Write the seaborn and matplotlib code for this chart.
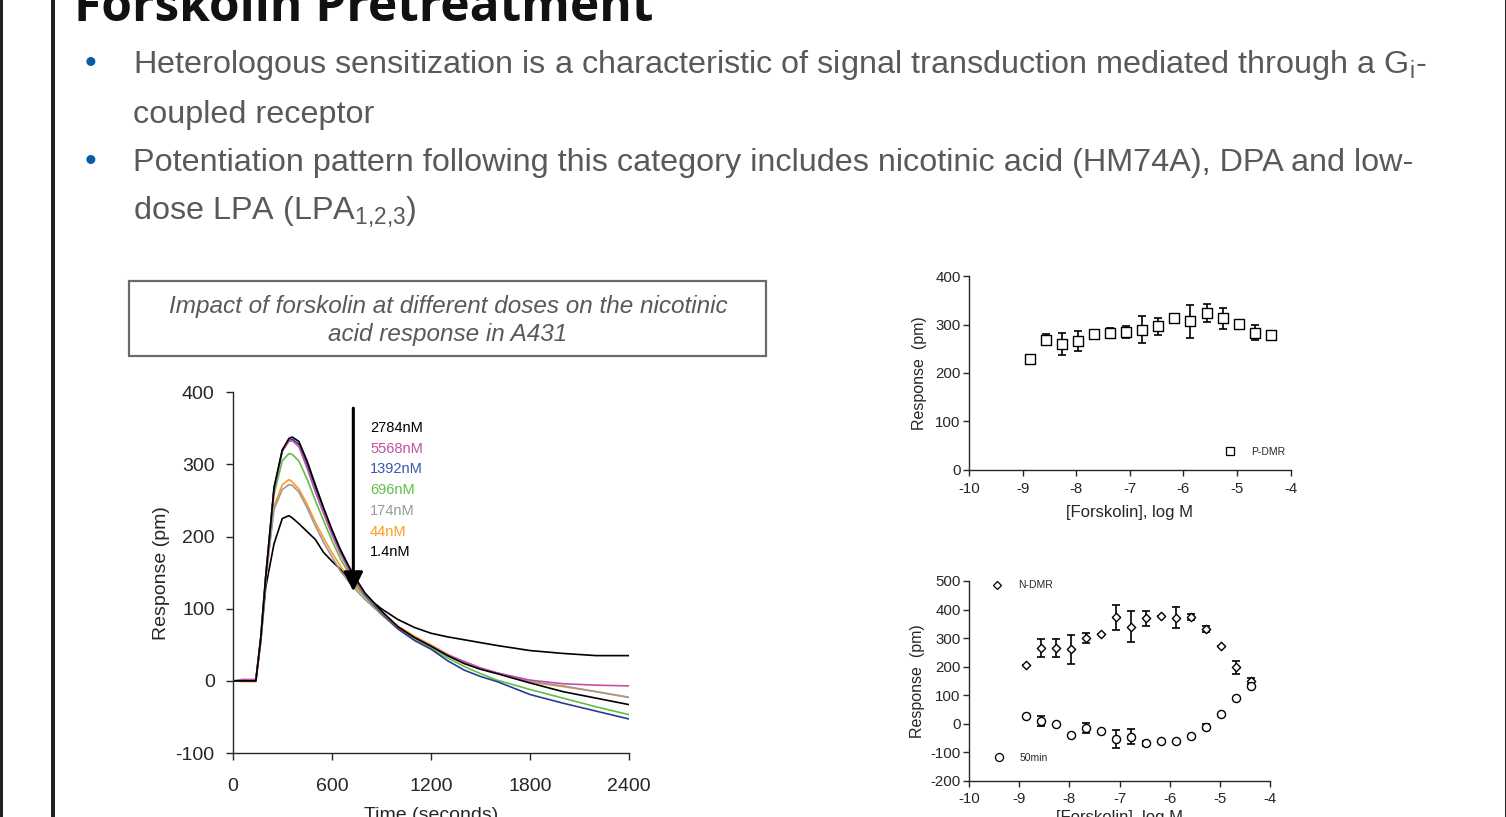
import pandas as pd
import matplotlib
matplotlib.use("Agg")
import matplotlib.pyplot as plt
import matplotlib.patches as mpatches
from matplotlib.lines import Line2D
import seaborn as sns

# Left panel: DMR traces (pm) vs time (s) for each forskolin dose
time_s = [0, 60, 120, 140, 170, 200, 250, 300, 340, 360, 400, 450, 500, 550, 600, 650,
          700, 750, 800, 900, 1000, 1100, 1200, 1300, 1400, 1500, 1600, 1800, 2000, 2200, 2400]
resp_2784 = [0, 0, 0, 0, 60, 145, 268, 320, 336, 338, 332, 305, 272, 240, 210, 183,
             160, 140, 122, 97, 75, 60, 48, 35, 24, 16, 10, -3, -15, -24, -33]
resp_5568 = [0, 2, 2, 2, 60, 145, 265, 318, 332, 333, 325, 295, 262, 232, 203, 177,
             155, 136, 120, 95, 74, 60, 48, 36, 27, 18, 11, 1, -4, -6, -7]
resp_1392 = [0, 0, 0, 0, 60, 145, 266, 320, 333, 335, 328, 300, 268, 238, 208, 180,
             157, 137, 119, 94, 72, 56, 44, 28, 15, 6, -1, -19, -31, -42, -53]
resp_696 = [0, 0, 0, 0, 60, 145, 258, 305, 315, 314, 305, 280, 250, 222, 195, 170,
            150, 132, 117, 92, 72, 57, 45, 32, 20, 10, 1, -12, -24, -36, -47]
resp_174 = [0, 0, 0, 0, 55, 140, 238, 265, 272, 271, 262, 240, 215, 192, 172, 153,
            138, 125, 113, 92, 73, 60, 48, 36, 25, 17, 11, -1, -7, -15, -23]
resp_44 = [0, -1, -1, -1, 55, 140, 242, 272, 279, 276, 266, 245, 220, 198, 178, 160,
           143, 129, 117, 95, 76, 62, 50, 37, 26, 17, 11, -2, -8, -15, -23]
resp_1_4 = [0, 0, 0, 0, 55, 130, 190, 225, 229, 226, 218, 207, 196, 178, 166, 155,
            143, 130, 118, 100, 85, 74, 66, 61, 57, 53, 49, 42, 38, 35, 35]

dose_labels = ["2784nM", "5568nM", "1392nM", "696nM", "174nM", "44nM", "1.4nM"]
dose_series = [resp_2784, resp_5568, resp_1392, resp_696, resp_174, resp_44, resp_1_4]
line_colors = ["#000000", "#c44fa8", "#2c3a96", "#62bf45", "#9a9a9a", "#ff9b1e", "#000000"]
label_colors = ["#000000", "#c44fa8", "#3b57a8", "#62bf45", "#9a9a9a", "#ff9b1e", "#000000"]
label_y = [350, 321, 293, 264, 236, 207, 179]

# Right panels: forskolin dose response
log_fsk = [-8.87, -8.57, -8.27, -7.97, -7.67, -7.37, -7.07, -6.77, -6.47, -6.17,
           -5.87, -5.57, -5.27, -4.97, -4.67, -4.37]
pdmr = [228, 269, 260, 266, 280, 283, 285, 289, 296, 313, 307, 324, 313, 302, 283, 278]
pdmr_err = [0, 12, 22, 21, 0, 10, 12, 28, 17, 0, 34, 19, 22, 0, 15, 9]
ndmr = [206, 265, 266, 260, 301, 313, 373, 340, 369, 379, 372, 373, 331, 273, 197, 150]
ndmr_err = [0, 31, 32, 50, 17, 0, 44, 55, 27, 0, 38, 10, 10, 0, 24, 11]
min50 = [27, 9, -2, -40, -16, -25, -55, -46, -69, -61, -61, -43, -11, 33, 89, 133]
min50_err = [0, 19, 0, 0, 17, 0, 31, 26, 9, 0, 0, 0, 9, 0, 0, 0]

sns.set_style("ticks")
plt.rcParams["font.family"] = ["Liberation Sans", "DejaVu Sans"]
plt.rcParams["axes.linewidth"] = 1.0
plt.rcParams["axes.unicode_minus"] = False

W, H = 1506, 817
fig = plt.figure(figsize=(W / 100, H / 100), dpi=100)


def fx(x):
    return x / W


def fy(y):
    return 1 - y / H


def ax_px(x0, y0, x1, y1):
    return fig.add_axes([fx(x0), fy(y1), (x1 - x0) / W, (y1 - y0) / H])


# slide frame
fig.add_artist(mpatches.Rectangle((0, 0), fx(2.5), 1, transform=fig.transFigure,
                                  color="#231f20", lw=0))
fig.add_artist(mpatches.Rectangle((fx(51), 0), fx(4), 1, transform=fig.transFigure,
                                  color="#231f20", lw=0))
fig.add_artist(mpatches.Rectangle((fx(1505), 0), fx(1), 1, transform=fig.transFigure,
                                  color="#231f20", lw=0))

# title (cut at the top of the slide) and bullets
fig.text(fx(74), fy(21), "Forskolin Pretreatment", family="Open Sans", weight="bold",
         fontsize=35.7, color="#111111", va="baseline", ha="left")
grey = "#595959"
blue = "#0b5aa6"
bullet_lines = [
    (73, True, r"Heterologous sensitization is a characteristic of signal transduction mediated through a G$\mathregular{_i}$-"),
    (123, False, "coupled receptor"),
    (171, True, "Potentiation pattern following this category includes nicotinic acid (HM74A), DPA and low-"),
    (220, False, r"dose LPA (LPA$\mathregular{_{1{,}2{,}3}}$)"),
]
for y, has_bullet, txt in bullet_lines:
    if has_bullet:
        fig.text(fx(91), fy(y - 9), "\u2022", color=blue, fontsize=24, ha="center", va="center")
    fig.text(fx(133), fy(y), txt, color=grey, fontsize=23.3, va="baseline", ha="left")

# caption box
fig.add_artist(mpatches.Rectangle((fx(129), fy(356)), fx(766 - 129), (356 - 281) / H,
                                  transform=fig.transFigure, fill=False,
                                  edgecolor="#6a6a6a", lw=1.6))
fig.text(fx(448), fy(313), "Impact of forskolin at different doses on the nicotinic",
         style="italic", color=grey, fontsize=17.5, ha="center", va="baseline")
fig.text(fx(448), fy(341), "acid response in A431",
         style="italic", color=grey, fontsize=17.5, ha="center", va="baseline")

# ---- left panel: time courses ----
ax1 = ax_px(232.7, 392.3, 629.3, 753)
rows = []
for lab, vals in zip(dose_labels, dose_series):
    for t, v in zip(time_s, vals):
        rows.append({"time": t, "response": v, "dose": lab})
traces = pd.DataFrame(rows)
palette = {lab: c for lab, c in zip(dose_labels, line_colors)}
hue_order = ["1.4nM", "44nM", "174nM", "696nM", "1392nM", "5568nM", "2784nM"]
sns.lineplot(data=traces, x="time", y="response", hue="dose", palette=palette,
             hue_order=hue_order, estimator=None, legend=False, lw=1.2, ax=ax1)
ax1.set_xlim(0, 2400)
ax1.set_ylim(-100, 400)
ax1.set_xticks([0, 600, 1200, 1800, 2400])
ax1.set_yticks([-100, 0, 100, 200, 300, 400])
ax1.tick_params(labelsize=14, length=5, width=1.0, direction="out", pad=8)
ax1.tick_params(axis="x", pad=13)
ax1.set_xlabel("Time (seconds)", fontsize=14, labelpad=9)
ax1.set_ylabel("Response (pm)", fontsize=14, labelpad=4)
sns.despine(ax=ax1)
ax1.annotate("", xy=(730, 124), xytext=(730, 378),
             arrowprops=dict(arrowstyle="-|>,head_length=0.9,head_width=0.45",
                             color="black", lw=2.2, mutation_scale=13, shrinkA=0, shrinkB=0))
for lab, c, y in zip(dose_labels, label_colors, label_y):
    ax1.text(831, y, lab, color=c, fontsize=10.5, va="center", ha="left")

# ---- right top: P-DMR ----
ax2 = ax_px(969, 276, 1290.7, 470)
ax2.errorbar(log_fsk, pdmr, yerr=pdmr_err, fmt="none", ecolor="black",
             elinewidth=1.2, capsize=3.2, capthick=1.2, zorder=2)
sns.scatterplot(x=log_fsk, y=pdmr, marker="s", s=42, facecolor="white",
                edgecolor="black", linewidth=1.0, zorder=3, ax=ax2)
ax2.set_xlim(-10, -4)
ax2.set_ylim(0, 400)
ax2.set_xticks(range(-10, -3))
ax2.set_yticks([0, 100, 200, 300, 400])
ax2.tick_params(labelsize=10.8, length=4, width=1.0, pad=2)
ax2.tick_params(axis="x", pad=5)
ax2.set_xlabel("[Forskolin], log M", fontsize=12, labelpad=6)
ax2.set_ylabel("Response  (pm)", fontsize=11.5, labelpad=6)
sns.despine(ax=ax2)
h_p = Line2D([], [], marker="s", ls="none", mfc="white", mec="black", ms=5.5, mew=0.9)
ax2.legend([h_p], ["P-DMR"], loc="lower right", frameon=False, fontsize=7.5,
           handletextpad=1.0, bbox_to_anchor=(1.005, 0.03), borderaxespad=0.3)

# ---- right bottom: N-DMR and 50 min ----
ax3 = ax_px(969, 581, 1270, 780.7)
ax3.errorbar(log_fsk, ndmr, yerr=ndmr_err, fmt="none", ecolor="black",
             elinewidth=1.2, capsize=3.2, capthick=1.2, zorder=2)
ax3.errorbar(log_fsk, min50, yerr=min50_err, fmt="none", ecolor="black",
             elinewidth=1.2, capsize=3.2, capthick=1.2, zorder=2)
sns.scatterplot(x=log_fsk, y=ndmr, marker="D", s=18, facecolor="white",
                edgecolor="black", linewidth=1.0, zorder=3, ax=ax3)
sns.scatterplot(x=log_fsk, y=min50, marker="o", s=34, facecolor="white",
                edgecolor="black", linewidth=1.0, zorder=3, ax=ax3)
ax3.set_xlim(-10, -4)
ax3.set_ylim(-200, 500)
ax3.set_xticks(range(-10, -3))
ax3.set_yticks(range(-200, 501, 100))
ax3.tick_params(labelsize=10.8, length=4, width=1.0, pad=2)
ax3.tick_params(axis="x", pad=4)
ax3.set_xlabel("[Forskolin], log M", fontsize=12, labelpad=3)
ax3.set_ylabel("Response  (pm)", fontsize=11.5, labelpad=4)
sns.despine(ax=ax3)
h_n = Line2D([], [], marker="D", ls="none", mfc="white", mec="black", ms=4, mew=0.9)
h_m = Line2D([], [], marker="o", ls="none", mfc="white", mec="black", ms=5.8, mew=0.9)
leg1 = ax3.legend([h_n], ["N-DMR"], loc="upper left", frameon=False, fontsize=7.5,
                  handletextpad=1.0, bbox_to_anchor=(0.045, 1.025), borderaxespad=0)
ax3.add_artist(leg1)
ax3.legend([h_m], ["50min"], loc="lower left", frameon=False, fontsize=7.5,
           handletextpad=1.0, bbox_to_anchor=(0.05, 0.07), borderaxespad=0)

fig.savefig("out.png", dpi=100)
